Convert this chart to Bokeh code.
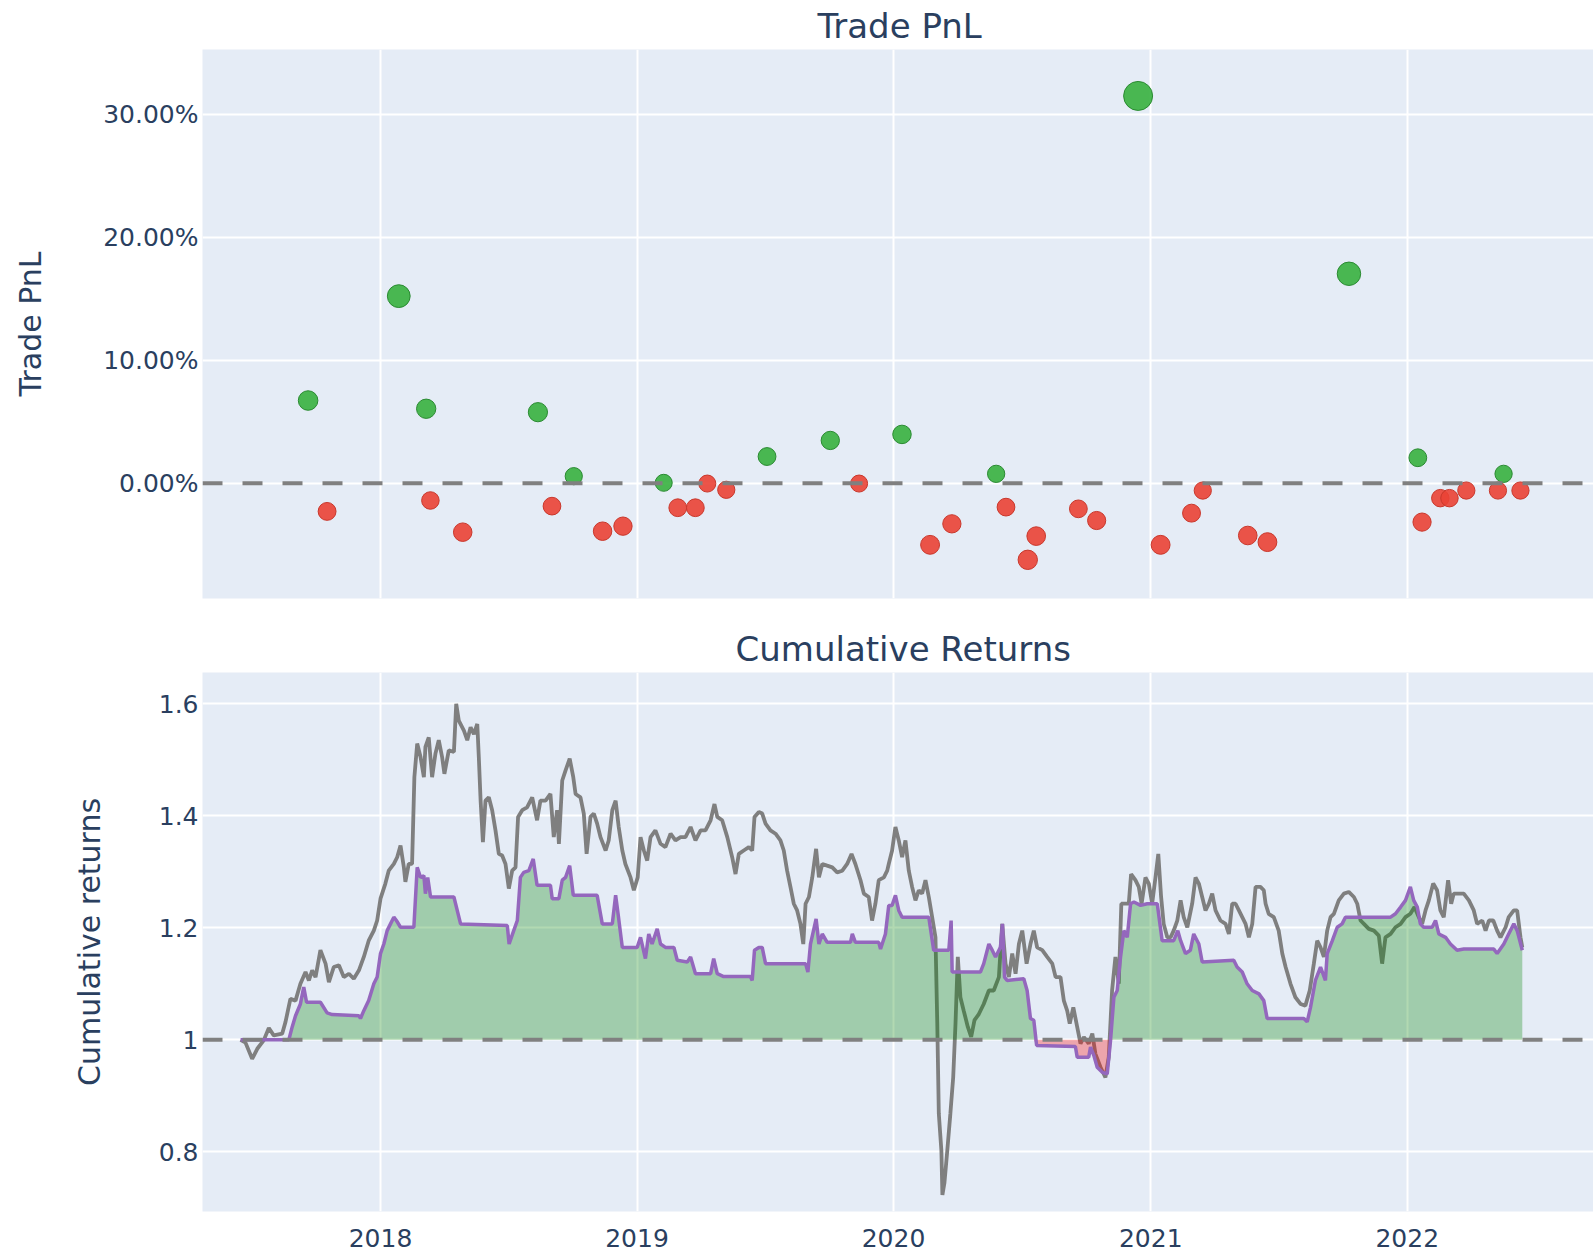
import numpy as np
import pandas as pd
from datetime import datetime, timedelta
from bokeh.plotting import figure
from bokeh.layouts import column
from bokeh.models import Range1d, FixedTicker, CustomJSTickFormatter, Span, ColumnDataSource, Grid
from bokeh.embed import file_html
from bokeh.resources import INLINE

# ---------------- data ----------------
# Trade PnL (percent), closing dates
trade_dates = ["2017-09-20", "2017-10-17", "2018-01-27", "2018-03-07", "2018-03-13", "2018-04-28",
               "2018-08-13", "2018-09-02", "2018-10-03", "2018-11-13", "2018-12-12", "2019-02-08",
               "2019-02-28", "2019-03-25", "2019-04-11", "2019-05-08", "2019-07-05", "2019-10-03",
               "2019-11-13", "2020-01-13", "2020-02-22", "2020-03-24", "2020-05-26", "2020-06-09",
               "2020-07-10", "2020-07-22", "2020-09-20", "2020-10-16", "2020-12-14", "2021-01-15",
               "2021-02-28", "2021-03-16", "2021-05-19", "2021-06-16", "2021-10-10", "2022-01-16",
               "2022-01-22", "2022-02-17", "2022-03-02", "2022-03-26", "2022-05-10", "2022-05-18",
               "2022-06-11"]
trade_pnl = [6.73, -2.30, 15.23, 6.06, -1.41, -3.99,
             5.78, -1.87, 0.57, -3.91, -3.50, 0.03,
             -2.00, -2.00, -0.03, -0.54, 2.17, 3.48,
             -0.03, 3.97, -5.02, -3.31, 0.76, -1.95,
             -6.24, -4.31, -2.09, -3.04, 31.53, -5.02,
             -2.44, -0.60, -4.26, -4.80, 17.05, 2.07,
             -3.17, -1.22, -1.22, -0.60, -0.60, 0.76,
             -0.60]

# Benchmark cumulative returns (time as decimal year)
bench_t = [
    2017.455, 2017.474, 2017.500, 2017.520, 2017.545, 2017.565, 2017.584, 2017.617, 2017.630, 2017.649,
    2017.669, 2017.688, 2017.708, 2017.721, 2017.734, 2017.747, 2017.766, 2017.786, 2017.799, 2017.818,
    2017.838, 2017.857, 2017.877, 2017.896, 2017.916, 2017.935, 2017.954, 2017.974, 2017.987, 2018.000,
    2018.019, 2018.032, 2018.052, 2018.065, 2018.078, 2018.091, 2018.097, 2018.110, 2018.123, 2018.132,
    2018.143, 2018.156, 2018.169, 2018.175, 2018.188, 2018.201, 2018.214, 2018.227, 2018.240, 2018.249,
    2018.266, 2018.286, 2018.295, 2018.305, 2018.325, 2018.338, 2018.351, 2018.364, 2018.377, 2018.383,
    2018.390, 2018.399, 2018.409, 2018.422, 2018.435, 2018.448, 2018.461, 2018.474, 2018.487, 2018.500,
    2018.513, 2018.526, 2018.536, 2018.552, 2018.571, 2018.591, 2018.610, 2018.623, 2018.643, 2018.662,
    2018.675, 2018.688, 2018.695, 2018.708, 2018.721, 2018.737, 2018.751, 2018.760, 2018.779, 2018.792,
    2018.803, 2018.818, 2018.831, 2018.844, 2018.857, 2018.877, 2018.889, 2018.903, 2018.916, 2018.928,
    2018.942, 2018.954, 2018.974, 2018.987, 2019.002, 2019.013, 2019.026, 2019.039, 2019.052, 2019.071,
    2019.091, 2019.110, 2019.130, 2019.149, 2019.169, 2019.188, 2019.208, 2019.227, 2019.247, 2019.266,
    2019.286, 2019.301, 2019.312, 2019.331, 2019.351, 2019.370, 2019.383, 2019.396, 2019.415, 2019.435,
    2019.448, 2019.457, 2019.474, 2019.487, 2019.500, 2019.519, 2019.539, 2019.558, 2019.571, 2019.584,
    2019.597, 2019.610, 2019.623, 2019.636, 2019.647, 2019.656, 2019.669, 2019.682, 2019.697, 2019.708,
    2019.721, 2019.740, 2019.760, 2019.779, 2019.799, 2019.818, 2019.835, 2019.850, 2019.870, 2019.883,
    2019.902, 2019.915, 2019.928, 2019.941, 2019.961, 2019.974, 2019.980, 2019.993, 2020.006, 2020.019,
    2020.032, 2020.045, 2020.058, 2020.071, 2020.084, 2020.097, 2020.110, 2020.123, 2020.136, 2020.149,
    2020.162, 2020.169, 2020.175, 2020.185, 2020.189, 2020.197, 2020.208, 2020.220, 2020.231, 2020.240,
    2020.249, 2020.259, 2020.272, 2020.288, 2020.301, 2020.314, 2020.331, 2020.350, 2020.370, 2020.389,
    2020.409, 2020.422, 2020.435, 2020.448, 2020.461, 2020.474, 2020.487, 2020.500, 2020.517, 2020.532,
    2020.545, 2020.558, 2020.578, 2020.597, 2020.617, 2020.630, 2020.649, 2020.662, 2020.675, 2020.685,
    2020.699, 2020.714, 2020.727, 2020.740, 2020.759, 2020.773, 2020.785, 2020.805, 2020.824, 2020.837,
    2020.850, 2020.863, 2020.876, 2020.886, 2020.902, 2020.915, 2020.924, 2020.941, 2020.954, 2020.965,
    2020.980, 2020.993, 2021.006, 2021.019, 2021.030, 2021.041, 2021.051, 2021.065, 2021.078, 2021.090,
    2021.104, 2021.117, 2021.129, 2021.143, 2021.162, 2021.175, 2021.188, 2021.201, 2021.214, 2021.227,
    2021.240, 2021.253, 2021.272, 2021.292, 2021.305, 2021.318, 2021.331, 2021.344, 2021.357, 2021.370,
    2021.383, 2021.396, 2021.409, 2021.428, 2021.441, 2021.448, 2021.460, 2021.480, 2021.499, 2021.513,
    2021.526, 2021.545, 2021.564, 2021.584, 2021.603, 2021.620, 2021.636, 2021.649, 2021.662, 2021.675,
    2021.688, 2021.701, 2021.714, 2021.733, 2021.753, 2021.772, 2021.792, 2021.805, 2021.818, 2021.831,
    2021.850, 2021.870, 2021.889, 2021.902, 2021.915, 2021.935, 2021.954, 2021.974, 2021.993, 2022.012,
    2022.028, 2022.045, 2022.058, 2022.071, 2022.084, 2022.101, 2022.116, 2022.129, 2022.142, 2022.159,
    2022.171, 2022.181, 2022.201, 2022.220, 2022.240, 2022.259, 2022.272, 2022.292, 2022.305, 2022.318,
    2022.335, 2022.350, 2022.363, 2022.383, 2022.395, 2022.415, 2022.428, 2022.441, 2022.448]
bench_v = [
    1.000, 0.995, 0.966, 0.984, 0.999, 1.021, 1.008, 1.011, 1.032, 1.073,
    1.070, 1.100, 1.121, 1.106, 1.124, 1.112, 1.160, 1.136, 1.103, 1.130,
    1.133, 1.112, 1.118, 1.109, 1.124, 1.148, 1.177, 1.195, 1.213, 1.252,
    1.279, 1.302, 1.314, 1.326, 1.347, 1.308, 1.282, 1.314, 1.314, 1.469,
    1.529, 1.505, 1.469, 1.523, 1.540, 1.469, 1.511, 1.535, 1.505, 1.475,
    1.517, 1.514, 1.600, 1.570, 1.552, 1.535, 1.558, 1.546, 1.564, 1.505,
    1.427, 1.353, 1.427, 1.433, 1.410, 1.374, 1.332, 1.329, 1.314, 1.270,
    1.302, 1.308, 1.398, 1.410, 1.415, 1.433, 1.392, 1.427, 1.427, 1.439,
    1.362, 1.410, 1.350, 1.463, 1.481, 1.502, 1.469, 1.439, 1.433, 1.404,
    1.332, 1.398, 1.404, 1.386, 1.362, 1.338, 1.356, 1.410, 1.427, 1.380,
    1.338, 1.314, 1.290, 1.267, 1.290, 1.362, 1.338, 1.320, 1.362, 1.374,
    1.350, 1.344, 1.368, 1.356, 1.362, 1.362, 1.380, 1.356, 1.374, 1.374,
    1.392, 1.421, 1.398, 1.392, 1.362, 1.326, 1.296, 1.332, 1.338, 1.344,
    1.338, 1.398, 1.407, 1.404, 1.386, 1.374, 1.368, 1.356, 1.338, 1.302,
    1.273, 1.243, 1.231, 1.207, 1.171, 1.243, 1.255, 1.290, 1.341, 1.290,
    1.314, 1.311, 1.308, 1.299, 1.302, 1.314, 1.332, 1.314, 1.285, 1.261,
    1.255, 1.213, 1.243, 1.285, 1.290, 1.302, 1.314, 1.338, 1.380, 1.356,
    1.326, 1.356, 1.302, 1.273, 1.249, 1.267, 1.261, 1.285, 1.255, 1.219,
    1.183, 1.029, 0.868, 0.802, 0.723, 0.745, 0.802, 0.868, 0.933, 1.029,
    1.148, 1.076, 1.052, 1.023, 1.005, 1.035, 1.046, 1.064, 1.088, 1.088,
    1.112, 1.207, 1.136, 1.112, 1.154, 1.118, 1.171, 1.195, 1.136, 1.171,
    1.195, 1.165, 1.160, 1.148, 1.136, 1.112, 1.112, 1.070, 1.052, 1.029,
    1.058, 1.023, 0.993, 1.005, 0.993, 1.011, 0.975, 0.951, 0.933, 0.969,
    1.088, 1.148, 1.100, 1.243, 1.243, 1.243, 1.296, 1.285, 1.273, 1.243,
    1.290, 1.279, 1.243, 1.290, 1.332, 1.255, 1.207, 1.183, 1.183, 1.195,
    1.213, 1.249, 1.219, 1.201, 1.243, 1.290, 1.279, 1.255, 1.231, 1.243,
    1.261, 1.231, 1.213, 1.207, 1.189, 1.243, 1.243, 1.231, 1.219, 1.207,
    1.183, 1.207, 1.273, 1.273, 1.267, 1.243, 1.225, 1.219, 1.195, 1.154,
    1.130, 1.100, 1.076, 1.064, 1.061, 1.088, 1.136, 1.177, 1.165, 1.148,
    1.195, 1.219, 1.225, 1.249, 1.261, 1.264, 1.255, 1.243, 1.213, 1.207,
    1.198, 1.195, 1.186, 1.136, 1.183, 1.189, 1.201, 1.207, 1.219, 1.225,
    1.237, 1.219, 1.207, 1.231, 1.249, 1.279, 1.267, 1.231, 1.219, 1.285,
    1.243, 1.261, 1.261, 1.261, 1.249, 1.231, 1.207, 1.213, 1.195, 1.213,
    1.213, 1.195, 1.183, 1.201, 1.219, 1.231, 1.231, 1.183, 1.165]

# Strategy cumulative returns (time as decimal year)
value_t = [
    2017.455, 2017.643, 2017.656, 2017.669, 2017.688, 2017.701, 2017.712, 2017.766, 2017.792, 2017.812,
    2017.916, 2017.922, 2017.935, 2017.954, 2017.974, 2017.987, 2018.000, 2018.013, 2018.026, 2018.039,
    2018.052, 2018.062, 2018.078, 2018.130, 2018.143, 2018.156, 2018.169, 2018.175, 2018.184, 2018.195,
    2018.286, 2018.312, 2018.494, 2018.501, 2018.519, 2018.533, 2018.545, 2018.558, 2018.578, 2018.595,
    2018.610, 2018.662, 2018.669, 2018.695, 2018.708, 2018.721, 2018.737, 2018.751, 2018.844, 2018.864,
    2018.903, 2018.916, 2018.928, 2018.942, 2019.000, 2019.013, 2019.032, 2019.045, 2019.058, 2019.078,
    2019.091, 2019.110, 2019.143, 2019.156, 2019.195, 2019.208, 2019.227, 2019.286, 2019.298, 2019.312,
    2019.337, 2019.441, 2019.448, 2019.457, 2019.474, 2019.487, 2019.500, 2019.656, 2019.665, 2019.675,
    2019.697, 2019.708, 2019.721, 2019.740, 2019.831, 2019.838, 2019.850, 2019.941, 2019.948, 2019.967,
    2019.980, 2019.993, 2020.006, 2020.019, 2020.032, 2020.136, 2020.155, 2020.214, 2020.223, 2020.227,
    2020.337, 2020.350, 2020.370, 2020.383, 2020.396, 2020.415, 2020.423, 2020.431, 2020.441, 2020.506,
    2020.519, 2020.532, 2020.545, 2020.556, 2020.707, 2020.714, 2020.759, 2020.766, 2020.779, 2020.792,
    2020.812, 2020.831, 2020.844, 2020.857, 2020.870, 2020.883, 2020.896, 2020.909, 2020.922, 2020.935,
    2020.961, 2020.987, 2021.026, 2021.045, 2021.090, 2021.106, 2021.117, 2021.136, 2021.155, 2021.168,
    2021.188, 2021.201, 2021.324, 2021.337, 2021.357, 2021.376, 2021.396, 2021.422, 2021.441, 2021.454,
    2021.597, 2021.610, 2021.623, 2021.642, 2021.662, 2021.681, 2021.688, 2021.708, 2021.727, 2021.746,
    2021.759, 2021.935, 2021.954, 2021.974, 2021.993, 2022.012, 2022.025, 2022.039, 2022.051, 2022.064,
    2022.097, 2022.110, 2022.123, 2022.149, 2022.168, 2022.194, 2022.220, 2022.337, 2022.350, 2022.376,
    2022.395, 2022.415, 2022.428, 2022.448]
value_v = [
    1.000, 1.000, 1.023, 1.043, 1.064, 1.094, 1.067, 1.067, 1.048, 1.045,
    1.043, 1.038, 1.052, 1.070, 1.100, 1.112, 1.154, 1.171, 1.195, 1.207,
    1.219, 1.213, 1.201, 1.201, 1.308, 1.290, 1.293, 1.261, 1.290, 1.255,
    1.255, 1.207, 1.204, 1.171, 1.195, 1.213, 1.290, 1.299, 1.302, 1.323,
    1.276, 1.276, 1.252, 1.252, 1.285, 1.290, 1.311, 1.258, 1.258, 1.207,
    1.207, 1.258, 1.216, 1.165, 1.165, 1.183, 1.145, 1.189, 1.171, 1.198,
    1.171, 1.165, 1.165, 1.142, 1.139, 1.148, 1.118, 1.118, 1.145, 1.118,
    1.113, 1.113, 1.106, 1.160, 1.165, 1.165, 1.136, 1.136, 1.121, 1.171,
    1.216, 1.171, 1.189, 1.174, 1.174, 1.189, 1.174, 1.174, 1.162, 1.189,
    1.240, 1.240, 1.258, 1.231, 1.219, 1.219, 1.160, 1.160, 1.213, 1.121,
    1.121, 1.136, 1.171, 1.160, 1.148, 1.165, 1.207, 1.112, 1.106, 1.109,
    1.088, 1.038, 1.035, 0.990, 0.988, 0.969, 0.969, 0.987, 0.972, 0.951,
    0.942, 0.939, 0.999, 1.076, 1.088, 1.148, 1.195, 1.183, 1.243, 1.246,
    1.240, 1.243, 1.243, 1.177, 1.177, 1.195, 1.177, 1.154, 1.160, 1.189,
    1.171, 1.139, 1.142, 1.130, 1.121, 1.100, 1.088, 1.082, 1.070, 1.038,
    1.038, 1.032, 1.058, 1.106, 1.130, 1.106, 1.154, 1.177, 1.201, 1.207,
    1.219, 1.219, 1.225, 1.237, 1.249, 1.273, 1.249, 1.237, 1.207, 1.201,
    1.201, 1.213, 1.189, 1.183, 1.171, 1.160, 1.162, 1.162, 1.154, 1.171,
    1.189, 1.207, 1.195, 1.160]

tick_years = [2018, 2019, 2020, 2021, 2022]
pnl_ticks = [0, 10, 20, 30]
cum_ticks = [0.8, 1.0, 1.2, 1.4, 1.6]

# ---------------- helpers / style ----------------
FONT = "DejaVu Sans"
TXT = "#2a3f5f"
BG = "#E5ECF6"


def dy(t):
    return datetime(2018, 1, 1) + timedelta(days=(t - 2018.0) * 365.25)


def ms(d):
    return (d - datetime(1970, 1, 1)).total_seconds() * 1000.0


year_ms = [ms(datetime(y, 1, 1)) for y in tick_years]
x_range = Range1d(start=dy(2017.3066), end=dy(2022.7254))


def style(p, title, title_offset):
    p.title.text = title
    p.title.align = "left"
    p.title.offset = title_offset
    p.title.text_font = FONT
    p.title.text_font_size = "34px"
    p.title.text_font_style = "normal"
    p.title.text_color = TXT
    p.title.standoff = 7
    p.background_fill_color = BG
    p.border_fill_color = "white"
    p.outline_line_color = None
    if len(p.xgrid) == 0:
        p.add_layout(Grid(dimension=0, ticker=FixedTicker(ticks=year_ms)))
    p.xgrid.ticker = FixedTicker(ticks=year_ms)
    p.grid.grid_line_color = "white"
    p.grid.grid_line_width = 2
    for ax in p.axis:
        ax.axis_line_color = None
        ax.major_tick_line_color = None
        ax.minor_tick_line_color = None
        ax.major_tick_out = 0
        ax.major_tick_in = 0
        ax.minor_tick_out = 0
        ax.minor_tick_in = 0
        ax.major_label_text_font = FONT
        ax.major_label_text_font_size = "25px"
        ax.major_label_text_color = TXT
        ax.major_label_standoff = 4
        ax.axis_label_text_font = FONT
        ax.axis_label_text_font_size = "30px"
        ax.axis_label_text_font_style = "normal"
        ax.axis_label_text_color = TXT


# ---------------- Trade PnL ----------------
p1 = figure(width=1593, height=623, x_axis_type="datetime", x_axis_location=None, x_range=x_range,
            y_range=Range1d(-9.39, 35.31), output_backend="svg", toolbar_location=None,
            min_border_left=202, min_border_right=0, min_border_top=49, min_border_bottom=25)
style(p1, "Trade PnL", 615)
p1.yaxis.ticker = FixedTicker(ticks=pnl_ticks)
p1.yaxis.formatter = CustomJSTickFormatter(code="return tick.toFixed(2) + '%';")
p1.yaxis.axis_label = "Trade PnL"
p1.yaxis.axis_label_standoff = 52

pnl = np.array(trade_pnl)
max_abs = np.abs(pnl).max()
src = ColumnDataSource(dict(
    date=pd.to_datetime(trade_dates),
    pnl=pnl,
    size=17 + 12 * np.abs(pnl) / max_abs,
    fill=["#37B13F" if v >= 0 else "#EA4335" for v in pnl],
    line=["#2a8a31" if v >= 0 else "#c9372b" for v in pnl],
))
p1.add_layout(Span(location=0, dimension="width", line_color="#808080",
                   line_width=4, line_dash="20 20"))
p1.scatter(x="date", y="pnl", size="size", fill_color="fill", line_color="line",
           fill_alpha=0.9, line_width=1, source=src)

# ---------------- Cumulative Returns ----------------
p2 = figure(width=1593, height=635, x_axis_type="datetime", x_range=x_range,
            y_range=Range1d(0.6934, 1.6559), output_backend="svg", toolbar_location=None,
            min_border_left=202, min_border_right=0, min_border_top=49, min_border_bottom=47)
style(p2, "Cumulative Returns", 533)
p2.yaxis.ticker = FixedTicker(ticks=cum_ticks)
p2.yaxis.formatter = CustomJSTickFormatter(code="return String(Number(tick.toFixed(1)));")
p2.yaxis.axis_label = "Cumulative returns"
p2.yaxis.axis_label_standoff = 49
p2.xaxis.ticker = FixedTicker(ticks=year_ms)
p2.xaxis.formatter = CustomJSTickFormatter(code="return String(new Date(tick).getUTCFullYear());")
p2.xaxis.axis_label_standoff = 0
p2.xaxis.major_label_standoff = 17

bx = [dy(t) for t in bench_t]
vx = [dy(t) for t in value_t]
vv = np.array(value_v)

p2.line(bx, bench_v, line_color="#7f7f7f", line_width=3.8)
p2.varea(x=vx, y1=np.ones_like(vv), y2=np.maximum(vv, 1.0), fill_color="green", fill_alpha=0.3)
p2.varea(x=vx, y1=np.ones_like(vv), y2=np.minimum(vv, 1.0), fill_color="red", fill_alpha=0.3)
p2.line(vx, value_v, line_color="#9467bd", line_width=3.5)
p2.add_layout(Span(location=1.0, dimension="width", line_color="#808080",
                   line_width=4, line_dash="20 20"))

layout = column(p1, p2, spacing=0)
open("out.html", "w").write(file_html(layout, INLINE))
